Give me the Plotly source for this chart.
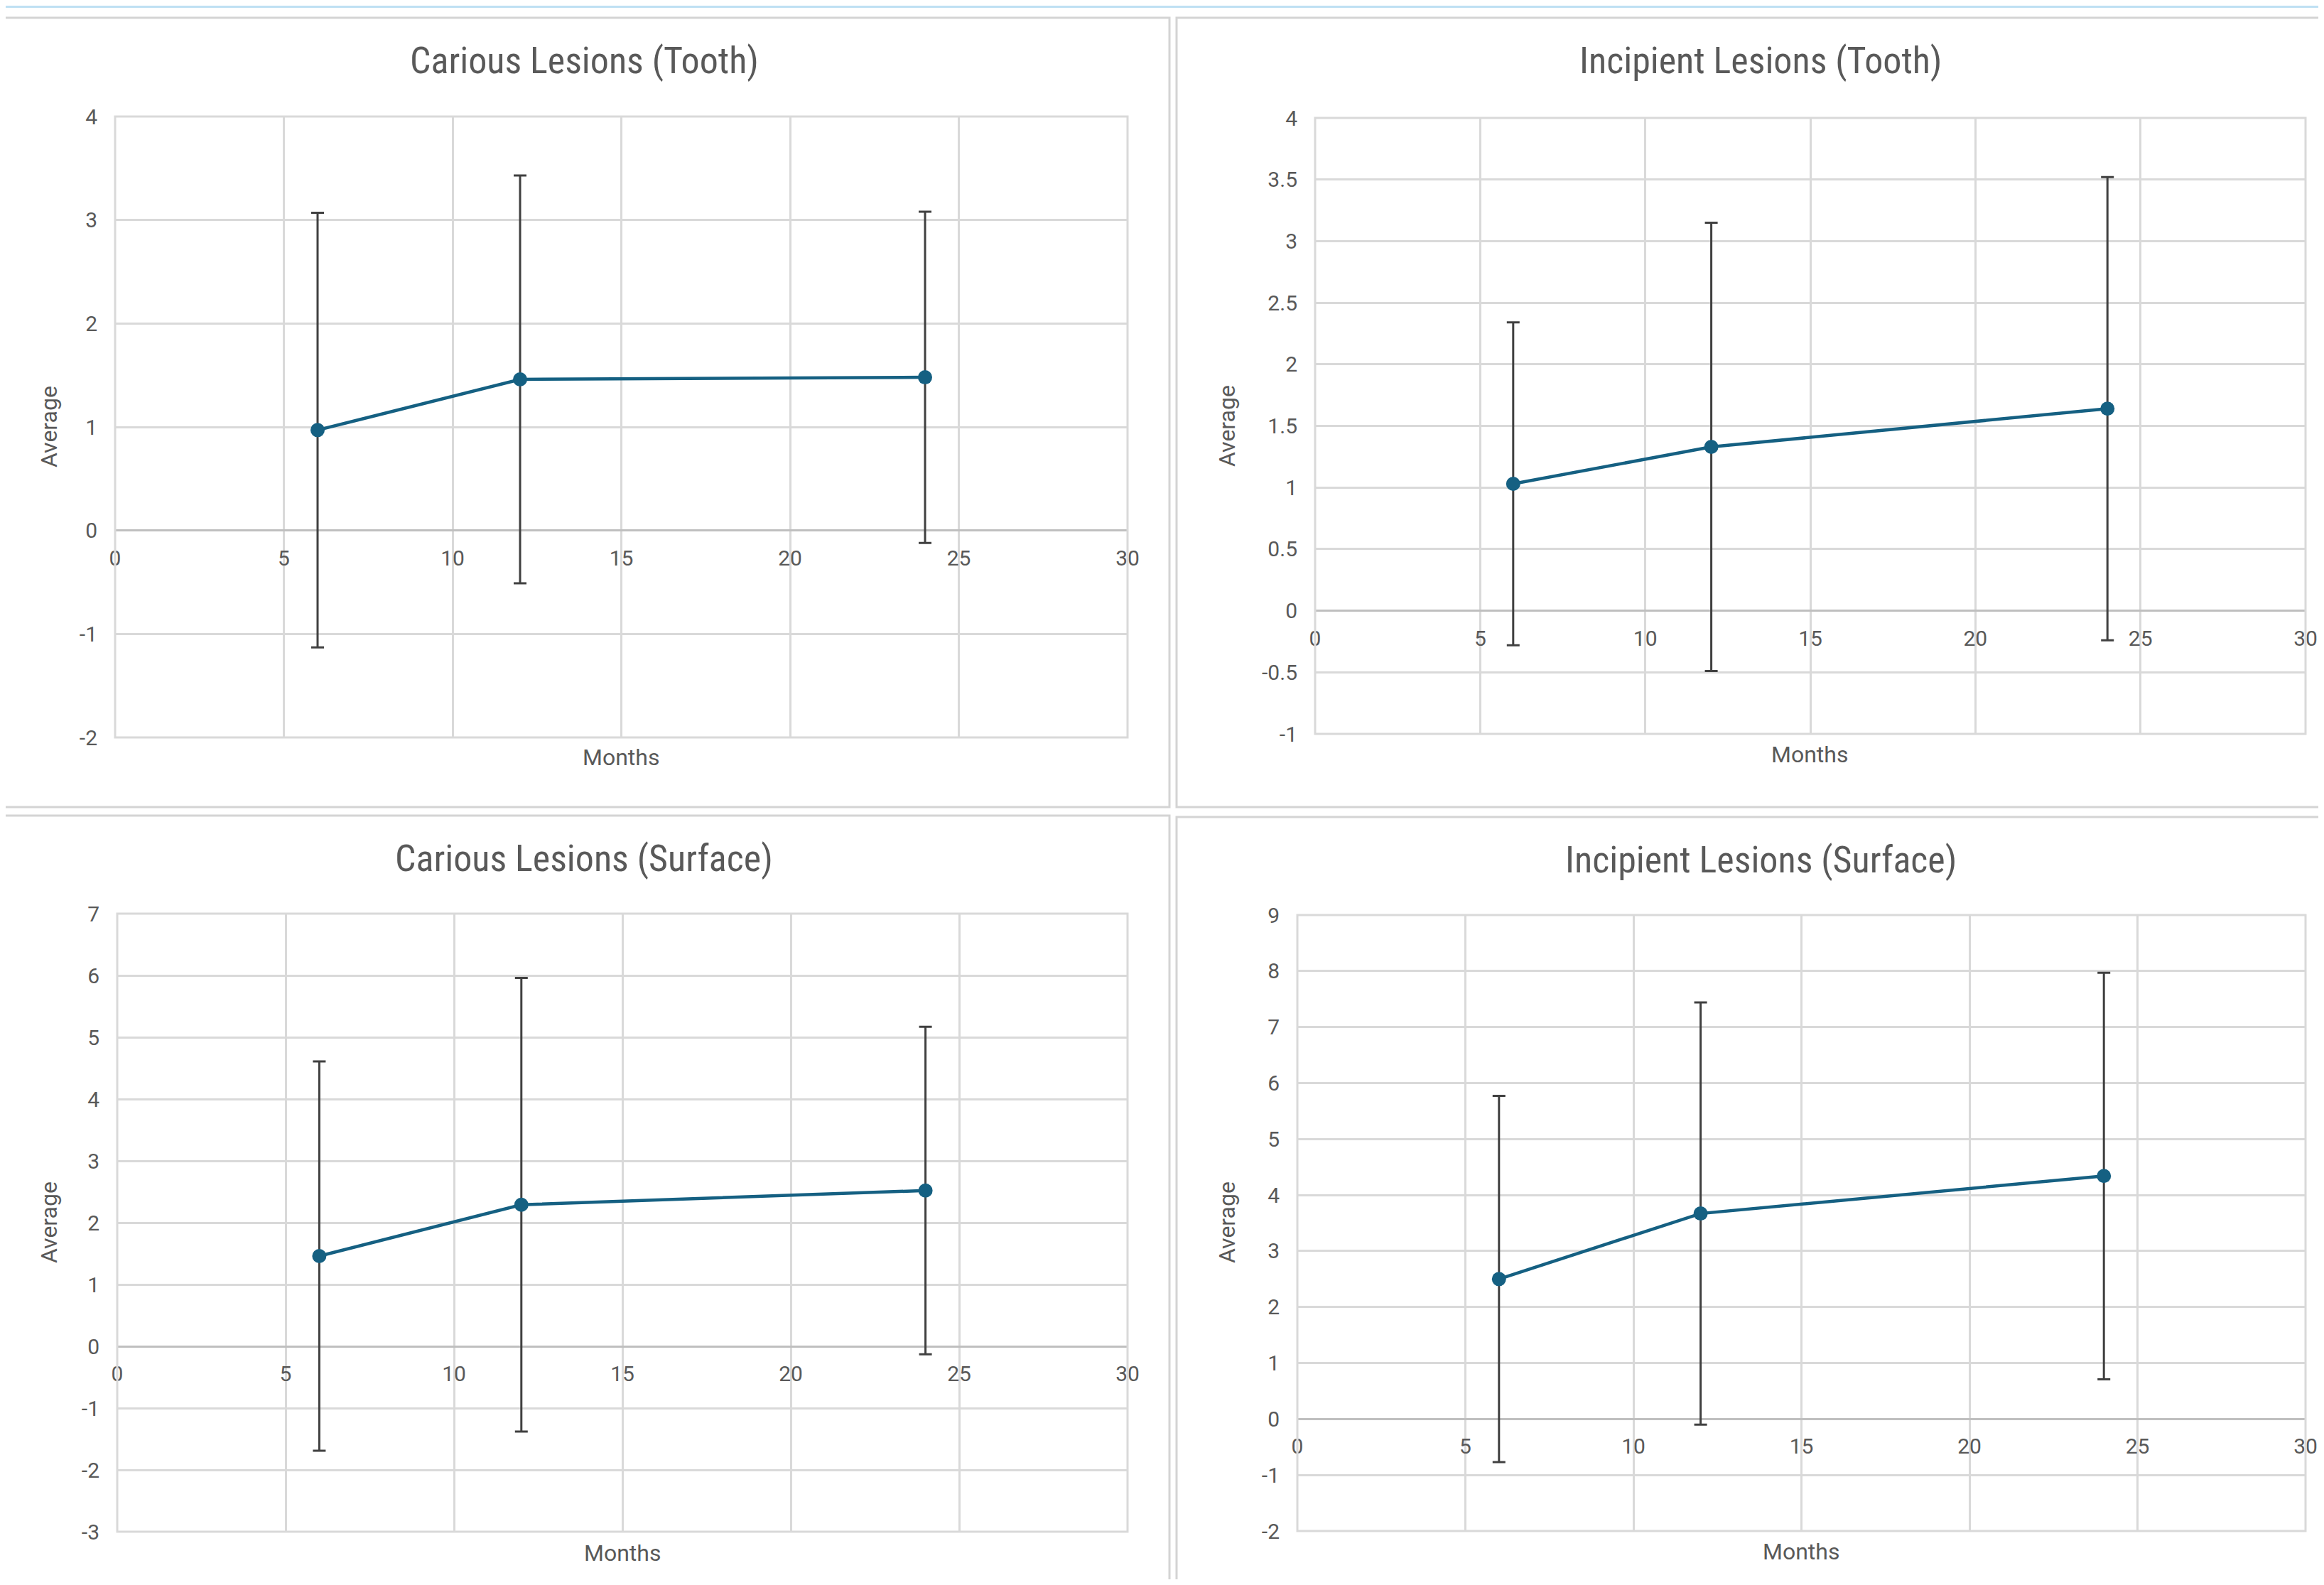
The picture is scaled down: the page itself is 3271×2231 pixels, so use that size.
import plotly.graph_objects as go

# ---------------- data ----------------
months = [6, 12, 24]

carious_tooth_mean = [0.97, 1.46, 1.48]
carious_tooth_err = [2.10, 1.97, 1.60]

incipient_tooth_mean = [1.03, 1.33, 1.64]
incipient_tooth_err = [1.31, 1.82, 1.88]

carious_surface_mean = [1.46, 2.29, 2.52]
carious_surface_err = [3.15, 3.67, 2.65]

incipient_surface_mean = [2.50, 3.67, 4.34]
incipient_surface_err = [3.27, 3.77, 3.63]

x_tick_vals = [0, 5, 10, 15, 20, 25, 30]
x_tick_text = ["0", "5", "10", "15", "20", "25", "30"]

y_ticks_carious_tooth = [-2, -1, 0, 1, 2, 3, 4]
y_text_carious_tooth = ["-2", "-1", "0", "1", "2", "3", "4"]

y_ticks_incipient_tooth = [-1, -0.5, 0, 0.5, 1, 1.5, 2, 2.5, 3, 3.5, 4]
y_text_incipient_tooth = ["-1", "-0.5", "0", "0.5", "1", "1.5", "2", "2.5", "3", "3.5", "4"]

y_ticks_carious_surface = [-3, -2, -1, 0, 1, 2, 3, 4, 5, 6, 7]
y_text_carious_surface = ["-3", "-2", "-1", "0", "1", "2", "3", "4", "5", "6", "7"]

y_ticks_incipient_surface = [-2, -1, 0, 1, 2, 3, 4, 5, 6, 7, 8, 9]
y_text_incipient_surface = ["-2", "-1", "0", "1", "2", "3", "4", "5", "6", "7", "8", "9"]

titles = ["Carious Lesions (Tooth)", "Incipient Lesions (Tooth)",
          "Carious Lesions (Surface)", "Incipient Lesions (Surface)"]
x_title = "Months"
y_title = "Average"

# ---------------- layout helpers ----------------
W, H = 3255, 2215          # figure size (page body margin of 8px around it)
OFFX, OFFY = 8, 8          # where the figure's top-left sits in the page
FONT = "Liberation Sans Narrow, Roboto Condensed, Arial Narrow, Roboto, sans-serif"
FONT2 = "Roboto, Open Sans, sans-serif"
TXT = "#595959"
GRID = "#d9d9d9"
LINE = "#156082"


def fx(px):
    return (px - OFFX) / W


def fy(py):
    return 1 - (py - OFFY) / H


panels = [
    dict(mean=carious_tooth_mean, err=carious_tooth_err,
         yt=y_ticks_carious_tooth, ytx=y_text_carious_tooth,
         plot=(162, 1587, 164, 1038), title_xy=(822, 86),
         avg_xy=(69, 601), mon_xy=(874, 1066), frame=(2, 1646, 25, 1136)),
    dict(mean=incipient_tooth_mean, err=incipient_tooth_err,
         yt=y_ticks_incipient_tooth, ytx=y_text_incipient_tooth,
         plot=(1851, 3245, 166, 1033), title_xy=(2478, 86),
         avg_xy=(1727, 600), mon_xy=(2547, 1062), frame=(1656, 3300, 25, 1136)),
    dict(mean=carious_surface_mean, err=carious_surface_err,
         yt=y_ticks_carious_surface, ytx=y_text_carious_surface,
         plot=(165, 1587, 1286, 2156), title_xy=(822, 1208),
         avg_xy=(69, 1721), mon_xy=(876, 2186), frame=(2, 1646, 1148, 2270)),
    dict(mean=incipient_surface_mean, err=incipient_surface_err,
         yt=y_ticks_incipient_surface, ytx=y_text_incipient_surface,
         plot=(1826, 3245, 1288, 2155), title_xy=(2478, 1210),
         avg_xy=(1727, 1721), mon_xy=(2535, 2184), frame=(1656, 3300, 1150, 2270)),
]

fig = go.Figure()
layout = dict(
    width=W, height=H,
    margin=dict(l=0, r=0, t=0, b=0, autoexpand=False),
    paper_bgcolor="white", plot_bgcolor="white",
    showlegend=False,
    font=dict(family=FONT, color=TXT),
)
shapes = []
annotations = []

shapes.append(dict(type="line", xref="paper", yref="paper", x0=0, x1=1, y0=fy(9.5), y1=fy(9.5),
                   line=dict(color="#bfe0f3", width=3)))

for i, p in enumerate(panels):
    sfx = "" if i == 0 else str(i + 1)
    xname, yname = "x" + sfx, "y" + sfx
    xl, xr, yt_px, yb_px = p["plot"]
    xdom = [fx(xl), fx(xr)]
    ydom = [fy(yb_px), fy(yt_px)]
    ymin, ymax = p["yt"][0], p["yt"][-1]
    zero_pos = ydom[0] + (0 - ymin) / (ymax - ymin) * (ydom[1] - ydom[0])

    fig.add_trace(go.Scatter(
        x=months, y=p["mean"], mode="lines+markers",
        line=dict(color=LINE, width=4.5),
        marker=dict(size=20, color=LINE),
        error_y=dict(type="data", array=p["err"], visible=True,
                     color="#404040", thickness=3, width=9),
        xaxis=xname, yaxis=yname, hoverinfo="x+y",
    ))

    layout["xaxis" + sfx] = dict(
        domain=xdom, range=[0, 30], anchor="free", position=zero_pos,
        tickmode="array", tickvals=x_tick_vals, ticktext=x_tick_text,
        showgrid=True, gridcolor=GRID, gridwidth=3,
        zeroline=False, showline=False, ticks="", automargin=False,
        ticklabelstandoff=18,
        tickfont=dict(family=FONT2, size=30, color=TXT),
    )
    layout["yaxis" + sfx] = dict(
        domain=ydom, range=[ymin, ymax], anchor=xname,
        tickmode="array", tickvals=p["yt"], ticktext=p["ytx"],
        showgrid=True, gridcolor=GRID, gridwidth=3,
        zeroline=True, zerolinecolor="#bfbfbf", zerolinewidth=3,
        showline=False, ticks="", ticklabelstandoff=24, automargin=False,
        tickfont=dict(family=FONT2, size=30, color=TXT),
    )

    shapes.append(dict(type="rect", xref=xname + " domain", yref=yname + " domain",
                       x0=0, x1=1, y0=0, y1=1, line=dict(color=GRID, width=3)))
    f = p["frame"]
    shapes.append(dict(type="rect", xref="paper", yref="paper",
                       x0=fx(f[0]), x1=fx(f[1]), y0=fy(f[3]), y1=fy(f[2]),
                       line=dict(color="#d4d4d4", width=3)))

    annotations.append(dict(text=titles[i], xref="paper", yref="paper",
                            x=fx(p["title_xy"][0]), y=fy(p["title_xy"][1]),
                            xanchor="center", yanchor="middle", showarrow=False,
                            font=dict(family=FONT, size=52, color=TXT)))
    annotations.append(dict(text=y_title, xref="paper", yref="paper",
                            x=fx(p["avg_xy"][0]), y=fy(p["avg_xy"][1]),
                            xanchor="center", yanchor="middle", showarrow=False,
                            textangle=-90,
                            font=dict(family=FONT2, size=32, color=TXT)))
    annotations.append(dict(text=x_title, xref="paper", yref="paper",
                            x=fx(p["mon_xy"][0]), y=fy(p["mon_xy"][1]),
                            xanchor="center", yanchor="middle", showarrow=False,
                            font=dict(family=FONT2, size=32, color=TXT)))

layout["shapes"] = shapes
layout["annotations"] = annotations
fig.update_layout(**layout)
fig.write_html("out.html")
